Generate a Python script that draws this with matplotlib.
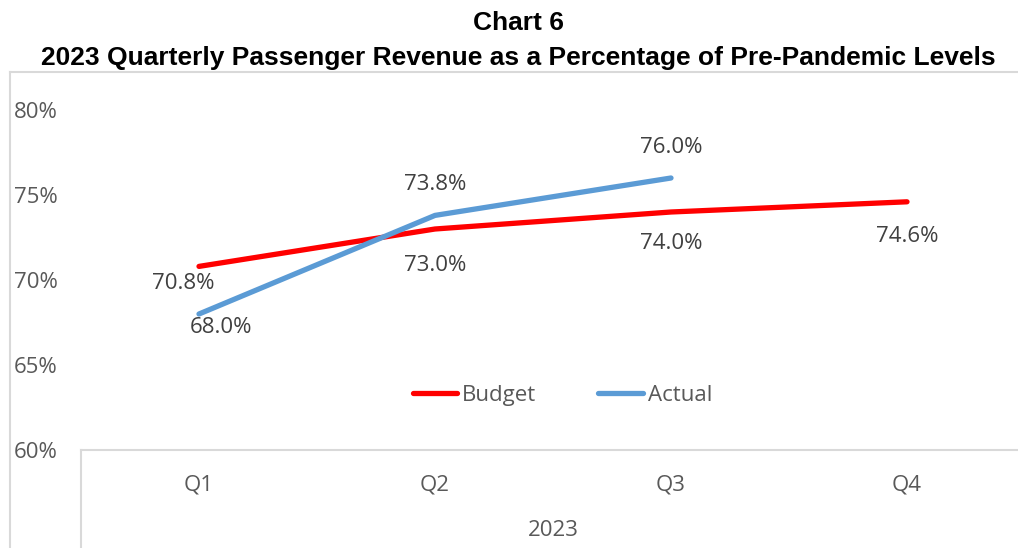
import matplotlib
matplotlib.use("Agg")
import matplotlib.pyplot as plt
from matplotlib.lines import Line2D

# data
quarters = ["Q1", "Q2", "Q3", "Q4"]
year = "2023"
budget = [70.8, 73.0, 74.0, 74.6]
actual = [68.0, 73.8, 76.0]
yticks = [60, 65, 70, 75, 80]

W, H = 1018, 548
fig = plt.figure(figsize=(W / 100, H / 100), dpi=100)

# plot area in pixels: x 81..1025, y 110..450 (from top)
x0, x1, ytop, ybot = 81, 1025, 110, 450
ax = fig.add_axes([x0 / W, (H - ybot) / H, (x1 - x0) / W, (ybot - ytop) / H])

red = "#FF0000"
blue = "#5B9BD5"
grey = "#D9D9D9"
txt = "#595959"
lab = "#404040"
font = "Open Sans"
fs = 16

ax.plot(range(len(budget)), budget, color=red, lw=3.8, solid_capstyle="round", label="Budget")
ax.plot(range(len(actual)), actual, color=blue, lw=3.8, solid_capstyle="round", label="Actual")

# data labels (offsets in points)
b_off = [(-11, -12), (0, -26), (0, -23), (0, -25)]
a_off = [(16, -10), (0, 22), (0, 22)]
for i, v in enumerate(budget):
    ax.annotate(f"{v:.1f}%", (i, v), xytext=b_off[i], textcoords="offset points",
                ha="center", va="center", fontsize=fs, color=lab, family=font)
for i, v in enumerate(actual):
    ax.annotate(f"{v:.1f}%", (i, v), xytext=a_off[i], textcoords="offset points",
                ha="center", va="center", fontsize=fs, color=lab, family=font)

ax.set_xlim(-0.5, 3.5)
ax.set_ylim(60, 80)
ax.set_yticks(yticks)
ax.set_yticklabels([f"{t}%" for t in yticks], family=font, fontsize=fs, color=txt)
ax.tick_params(axis="y", length=0, pad=17)
ax.set_xticks([])
for s in ["top", "right", "left"]:
    ax.spines[s].set_visible(False)
ax.spines["bottom"].set_color(grey)
ax.spines["bottom"].set_linewidth(1.5)
ax.patch.set_alpha(0)

# category labels (two levels)
for i, q in enumerate(quarters):
    ax.annotate(q, (i, 60), xytext=(0, -25), textcoords="offset points",
                ha="center", va="center", fontsize=fs, color=txt, family=font)
ax.annotate(year, (1.5, 60), xytext=(0, -58), textcoords="offset points",
            ha="center", va="center", fontsize=fs, color=txt, family=font)

leg = ax.legend(loc="center", bbox_to_anchor=(0.51, 0.16), ncol=2, frameon=False,
                handlelength=2.0, columnspacing=2.8, handletextpad=0.22,
                prop={"family": font, "size": fs})
for t in leg.get_texts():
    t.set_color(txt)

# chart frame and category divider
def fline(xs, ys):
    fig.add_artist(Line2D([x / W for x in xs], [1 - y / H for y in ys],
                          color=grey, lw=1.5, transform=fig.transFigure))

fline([10, 10], [72, H])
fline([10, W], [72, 72])
fline([x0, x0], [ybot, H])

# title
fig.text(0.509, 1 - 23 / H, "Chart 6", ha="center", va="center",
         fontsize=19, fontweight="bold", family="Liberation Sans")
fig.text(0.509, 1 - 58 / H, "2023 Quarterly Passenger Revenue as a Percentage of Pre-Pandemic Levels",
         ha="center", va="center", fontsize=19, fontweight="bold", family="Liberation Sans")

fig.savefig("out.png", dpi=100)
